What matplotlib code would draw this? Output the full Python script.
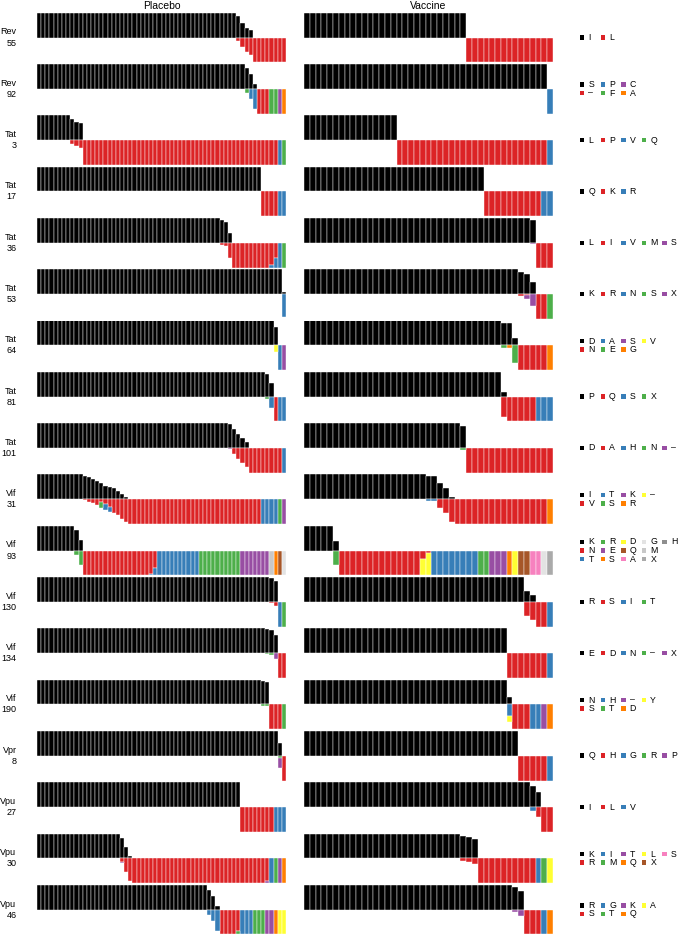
import matplotlib.pyplot as plt
from matplotlib.patches import Rectangle

plt.rcParams['font.family'] = ['Liberation Sans', 'DejaVu Sans']

# one row per site
genes = ['Rev', 'Rev', 'Tat', 'Tat', 'Tat', 'Tat', 'Tat', 'Tat', 'Tat',
         'Vif', 'Vif', 'Vif', 'Vif', 'Vif', 'Vpr', 'Vpu', 'Vpu', 'Vpu']
positions = [55, 92, 3, 17, 36, 53, 64, 81, 101, 31, 93, 130, 134, 190, 8, 27, 30, 46]

# residues in legend order, the first one is the reference (black)
legends = [
    ['I', 'L'],
    ['S', '–', 'P', 'F', 'C', 'A'],
    ['L', 'P', 'V', 'Q'],
    ['Q', 'K', 'R'],
    ['L', 'I', 'V', 'M', 'S'],
    ['K', 'R', 'N', 'S', 'X'],
    ['D', 'N', 'A', 'E', 'S', 'G', 'V'],
    ['P', 'Q', 'S', 'X'],
    ['D', 'A', 'H', 'N', '–'],
    ['I', 'V', 'T', 'S', 'K', 'R', '–'],
    ['K', 'N', 'T', 'R', 'E', 'S', 'D', 'Q', 'A', 'G', 'M', 'X', 'H'],
    ['R', 'S', 'I', 'T'],
    ['E', 'D', 'N', '–', 'X'],
    ['N', 'S', 'H', 'T', '–', 'D', 'Y'],
    ['Q', 'H', 'G', 'R', 'P'],
    ['I', 'L', 'V'],
    ['K', 'R', 'I', 'M', 'T', 'Q', 'L', 'X', 'S'],
    ['R', 'S', 'G', 'T', 'K', 'Q', 'A'],
]

# runs of subjects: (count, residue) or (count, {non-reference residue: fraction})
placebo = [
    [(48, 'I'), (1, {'L': .15}), (1, {'L': .4}), (1, {'L': .6}), (1, {'L': .7}), (8, 'L')],
    [(50, 'S'), (1, {'F': .15}), (1, {'P': .4}), (1, {'P': .8}), (3, '–'), (2, 'F'), (1, 'C'), (1, 'A')],
    [(8, 'L'), (1, {'P': .15}), (1, {'P': .25}), (1, {'P': .3}), (47, 'P'), (1, 'V'), (1, 'Q')],
    [(54, 'Q'), (4, 'K'), (2, 'R')],
    [(44, 'L'), (1, {'I': .1}), (1, {'I': .15}), (1, {'I': .6}), (9, 'I'),
     (1, {'I': .9, 'V': .1}), (1, {'I': .6, 'V': .4}), (1, 'V'), (1, 'M')],
    [(59, 'K'), (1, {'N': .93})],
    [(57, 'D'), (1, {'V': .25}), (1, 'A'), (1, 'S')],
    [(55, 'P'), (1, {'X': .1}), (1, {'S': .45}), (1, 'Q'), (2, 'S')],
    [(46, 'D'), (1, {'–': .05}), (1, {'A': .25}), (1, {'A': .45}), (1, {'A': .6}), (1, {'A': .75}),
     (8, 'A'), (1, 'H')],
    [(11, 'I'), (1, {'V': .05}), (1, {'V': .1}), (1, {'V': .17}), (1, {'V': .25}),
     (1, {'V': .1, 'S': .25}), (1, {'V': .2, 'T': .25}), (1, {'V': .3, 'T': .2}), (1, {'V': .55}),
     (1, {'V': .65}), (1, {'V': .8}), (1, {'V': .9}), (32, 'V'), (4, 'T'), (1, 'S'), (1, 'K')],
    [(9, 'K'), (1, {'R': .17}), (1, {'R': .57}), (16, 'N'), (1, {'N': .95, 'T': .05}),
     (1, {'N': .7, 'T': .3}), (10, 'T'), (10, 'R'), (7, 'E'), (1, 'M'), (1, 'S'), (1, 'Q'), (1, 'G')],
    [(56, 'R'), (1, {'S': .05}), (1, {'S': .15}), (1, 'I'), (1, 'T')],
    [(55, 'E'), (1, {'–': .04}), (1, {'–': .08}), (1, {'X': .25}), (2, 'D')],
    [(54, 'N'), (1, {'T': .05}), (1, {'T': .08}), (3, 'S'), (1, 'T')],
    [(58, 'Q'), (1, {'R': .1, 'P': .4}), (1, 'H')],
    [(49, 'I'), (8, 'L'), (3, 'V')],
    [(20, 'K'), (1, {'R': .15, 'T': .05}), (1, {'R': .55}), (1, {'R': .9}), (32, 'R'),
     (1, {'R': .9, 'T': .1}), (1, 'I'), (1, 'M'), (1, 'T'), (1, 'Q')],
    [(41, 'R'), (1, {'G': .2}), (1, {'G': .45}), (1, {'G': .85}), (4, 'S'), (1, {'S': .85, 'T': .15}),
     (3, 'G'), (3, 'T'), (2, 'K'), (1, 'Q'), (2, 'A')],
]

vaccine = [
    [(28, 'I'), (15, 'L')],
    [(42, 'S'), (1, 'P')],
    [(16, 'L'), (26, 'P'), (1, 'V')],
    [(31, 'Q'), (10, 'K'), (2, 'R')],
    [(39, 'L'), (1, {'S': .07}), (3, 'I')],
    [(37, 'K'), (1, {'R': .1}), (1, {'R': .05, 'X': .15}), (1, {'X': .5}), (2, 'R'), (1, 'S')],
    [(34, 'D'), (1, {'E': .1}), (1, {'G': .1}), (1, {'E': .7}), (5, 'N'), (1, 'G')],
    [(34, 'P'), (1, {'Q': .83}), (5, 'Q'), (3, 'S')],
    [(27, 'D'), (1, {'N': .1}), (15, 'A')],
    [(21, 'I'), (1, {'T': .07}), (1, {'T': .07}), (1, {'V': .35}), (1, {'V': .55}), (1, {'V': .93}),
     (16, 'V'), (1, 'R')],
    [(5, 'K'), (1, {'R': .6}), (14, 'N'), (1, {'N': .35, 'D': .65}), (1, {'N': .1, 'D': .9}),
     (8, 'T'), (2, 'R'), (3, 'E'), (1, 'S'), (1, 'D'), (2, 'Q'), (2, 'A'), (1, 'G'), (1, 'X')],
    [(38, 'R'), (1, {'S': .57}), (1, {'S': .72}), (2, 'S'), (1, 'I')],
    [(35, 'E'), (7, 'D'), (1, 'N')],
    [(35, 'N'), (1, {'H': .45, 'Y': .25}), (3, 'S'), (2, 'H'), (1, '–'), (1, 'D')],
    [(37, 'Q'), (5, 'H'), (1, 'G')],
    [(39, 'I'), (1, {'V': .15}), (1, {'L': .4}), (2, 'L')],
    [(27, 'K'), (1, {'R': .12}), (1, {'R': .15}), (1, {'R': .22}), (10, 'R'), (1, 'I'), (1, 'M'), (1, 'L')],
    [(36, 'R'), (1, {'K': .1}), (1, {'K': .25}), (3, 'S'), (1, 'G'), (1, 'Q')],
]

colours = ['#000000', '#DC2326', '#377EB8', '#4DAF4A', '#984EA3', '#FF7F00', '#FFFF33',
           '#A65628', '#F781BF', '#e3e3e3', '#c8c8c8', '#aaaaaa', '#8e8e8e']


def expand(runs, ref):
    cols = []
    for n, comp in runs:
        if isinstance(comp, str):
            comp = {comp: 1.0}
        else:
            comp = dict(comp)
            comp[ref] = 1 - sum(comp.values())
        cols += [comp] * n
    return cols


def draw_panel(ax, runs, residues):
    ref = residues[0]
    cols = expand(runs, ref)
    n = len(cols)
    # reference residue sits above the midline
    xs = [i for i in range(n) if cols[i].get(ref, 0) > 0]
    ax.bar(xs, [cols[i][ref] for i in xs], bottom=1, width=1, color='black',
           edgecolor='white', linewidth=0.3)
    # the other residues stack downward from the midline
    level = [1.0] * n
    for res, col in zip(residues[1:], colours[1:]):
        h = [c.get(res, 0) for c in cols]
        level = [l - v for l, v in zip(level, h)]
        xs = [i for i in range(n) if h[i] > 0]
        if xs:
            ax.bar(xs, [h[i] for i in xs], bottom=[level[i] for i in xs], width=1,
                   color=col, edgecolor='white', linewidth=0.3)
    ax.set_xlim(-0.5, n - 0.5)
    ax.set_ylim(0, 2)
    ax.axis('off')


W, H = 689, 939
fig = plt.figure(figsize=(W / 100, H / 100), dpi=100)

row_top, row_step, row_h = 12.7, 51.3, 49.6
left_p, left_v, panel_w = 37, 304, 249

for i in range(len(genes)):
    top = row_top + row_step * i
    bottom = 1 - (top + row_h) / H
    axp = fig.add_axes([left_p / W, bottom, panel_w / W, row_h / H])
    draw_panel(axp, placebo[i], legends[i])
    axv = fig.add_axes([left_v / W, bottom, panel_w / W, row_h / H])
    draw_panel(axv, vaccine[i], legends[i])

# overlay in pixel units for labels and legends
ov = fig.add_axes([0, 0, 1, 1])
ov.set_xlim(0, W)
ov.set_ylim(H, 0)
ov.axis('off')

ov.text(left_p + panel_w / 2, 6, 'Placebo', ha='center', va='center', fontsize=7.5)
ov.text(left_v + panel_w / 2, 6, 'Vaccine', ha='center', va='center', fontsize=7.5)

for i in range(len(genes)):
    mid = row_top + row_step * i + row_h / 2
    ov.text(16.5, mid, f'{genes[i]}\n{positions[i]}', ha='right', va='center',
            fontsize=6.5, linespacing=1.3, multialignment='right')

    res = legends[i]
    nrow = 1 if len(res) <= 5 else (2 if len(res) <= 10 else 3)
    for k, r in enumerate(res):
        c, rr = k // nrow, k % nrow
        y = mid + (rr - (nrow - 1) / 2) * 8.5
        x = 580 + 20.6 * c
        ov.add_patch(Rectangle((x, y - 2.2), 4.4, 4.4, facecolor=colours[k], edgecolor='none'))
        ov.text(x + 8.5, y, r, ha='left', va='center', fontsize=6.3)

fig.savefig('out.png', dpi=100)
